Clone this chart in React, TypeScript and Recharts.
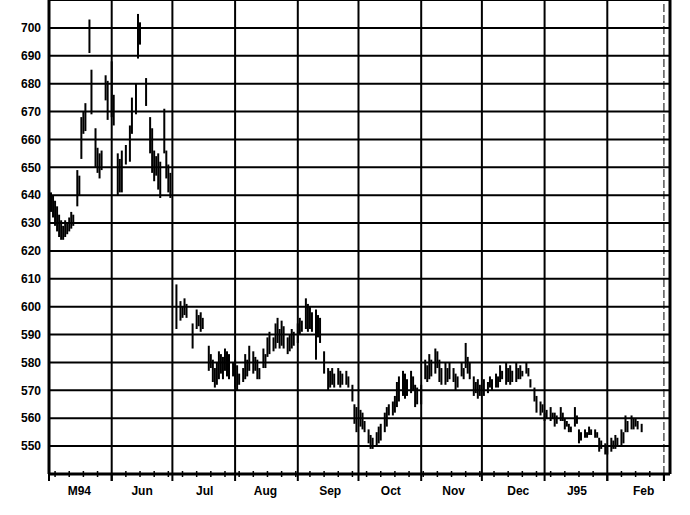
import {
  ComposedChart,
  Bar,
  XAxis,
  YAxis,
  CartesianGrid,
  ReferenceLine,
} from 'recharts';

// daily bars: [day counted from 1 May 1994, high, low]
const may94 = [
  [1, 641, 634], [2, 640, 632], [3, 638, 629], [4, 636, 627], [5, 633, 625],
  [6, 631, 624], [7, 629, 624], [8, 631, 625], [9, 630, 626], [10, 632, 627],
  [11, 634, 628], [12, 633, 629], [14, 649, 636], [15, 647, 640], [16, 668, 653],
  [17, 670, 662], [18, 673, 663], [20, 703, 691], [21, 685, 669], [23, 664, 650],
  [24, 657, 648], [25, 655, 646], [26, 656, 649], [28, 683, 674], [29, 681, 667],
];
const jun94 = [
  [31, 688, 668], [32, 676, 665], [34, 655, 640], [35, 653, 641], [36, 656, 641],
  [38, 658, 651], [40, 665, 652], [41, 675, 662], [43, 680, 669], [44, 705, 689],
  [45, 702, 694], [48, 682, 672], [50, 668, 655], [51, 664, 648], [52, 656, 645],
  [53, 654, 647], [54, 655, 642], [55, 652, 639], [57, 671, 655], [58, 656, 646],
  [59, 651, 641], [60, 648, 639],
];
const jul94 = [
  [63, 608, 592], [65, 602, 595], [66, 600, 596], [67, 603, 597], [68, 601, 596],
  [71, 594, 585], [73, 599, 592], [74, 597, 593], [75, 598, 591], [76, 596, 592],
  [79, 586, 577], [80, 583, 578], [81, 581, 573], [82, 578, 571], [83, 580, 572],
  [84, 584, 574], [85, 583, 576], [86, 582, 574], [87, 585, 577], [88, 584, 575],
  [89, 583, 574], [91, 580, 575],
];
const aug94 = [
  [92, 581, 571], [93, 579, 570], [94, 576, 572], [96, 578, 573], [97, 583, 574],
  [98, 581, 575], [99, 586, 577], [101, 584, 576], [102, 582, 577], [103, 581, 574],
  [104, 578, 574], [106, 585, 578], [107, 583, 578], [108, 589, 582], [109, 591, 583],
  [111, 589, 584], [112, 594, 585], [113, 596, 587], [114, 592, 585], [115, 595, 586],
  [116, 593, 585], [118, 589, 583], [119, 590, 584], [120, 592, 585], [121, 591, 586],
];
const sep94 = [
  [123, 594, 587], [124, 596, 590], [125, 595, 591], [127, 603, 592], [128, 601, 591],
  [129, 600, 592], [130, 598, 591], [132, 599, 581], [133, 597, 589], [134, 596, 587],
  [136, 584, 576], [138, 578, 570], [139, 577, 571], [140, 578, 572], [141, 576, 571],
  [143, 578, 572], [144, 577, 571], [145, 576, 572], [147, 577, 572], [148, 575, 571],
  [150, 572, 566], [151, 565, 558], [152, 564, 555],
];
const oct94 = [
  [154, 563, 557], [155, 562, 556], [156, 559, 555], [158, 556, 551], [159, 554, 549],
  [160, 553, 549], [162, 555, 550], [163, 557, 551], [164, 558, 552], [166, 562, 555],
  [167, 564, 557], [168, 565, 561], [170, 566, 561], [171, 568, 562], [172, 573, 564],
  [173, 575, 566], [175, 577, 568], [176, 576, 567], [177, 574, 568], [179, 577, 569],
  [180, 575, 570], [181, 572, 564], [182, 571, 565],
];
const nov94 = [
  [184, 572, 565], [186, 581, 574], [187, 579, 573], [188, 583, 574], [189, 581, 575],
  [191, 585, 576], [192, 584, 578], [193, 581, 573], [194, 578, 572], [196, 580, 572],
  [197, 578, 573], [198, 580, 574], [200, 578, 573], [201, 576, 570], [202, 575, 571],
  [204, 580, 575], [205, 578, 574], [206, 587, 578], [207, 582, 576], [208, 580, 574],
  [210, 575, 568], [211, 573, 569], [212, 574, 567], [213, 572, 568],
];
const dec94 = [
  [215, 574, 568], [217, 573, 569], [218, 575, 571], [219, 574, 570], [221, 576, 571],
  [222, 575, 571], [223, 579, 573], [224, 577, 574], [226, 580, 572], [227, 578, 573],
  [228, 579, 572], [229, 577, 573], [231, 580, 573], [232, 578, 574], [233, 579, 574],
  [234, 577, 575], [236, 580, 576], [237, 578, 575], [238, 574, 571], [240, 571, 566],
  [241, 568, 562], [243, 566, 561], [244, 565, 562],
];
const jan95 = [
  [245, 562, 559], [246, 563, 560], [248, 564, 559], [249, 562, 560], [250, 562, 557],
  [251, 561, 558], [253, 564, 559], [254, 562, 559], [255, 560, 556], [256, 559, 557],
  [257, 558, 555], [258, 557, 555], [260, 564, 557], [261, 561, 558], [262, 556, 551],
  [263, 555, 552], [265, 556, 553], [266, 555, 553], [267, 557, 554], [268, 556, 554],
  [270, 556, 553], [271, 555, 553], [272, 553, 548], [273, 552, 549], [275, 551, 547],
];
const feb95 = [
  [276, 550, 547], [278, 553, 548], [279, 552, 549], [280, 554, 549], [281, 553, 550],
  [283, 556, 550], [284, 555, 551], [285, 561, 555], [286, 559, 555], [288, 561, 556],
  [289, 560, 556], [290, 560, 557], [291, 559, 556], [293, 558, 555],
];

const monthStarts = [0, 31, 61, 92, 123, 153, 184, 214, 245, 276];
const monthMids = [15, 46, 77, 107, 139, 169, 200, 232, 261, 294];
const monthLabels = ['M94', 'Jun', 'Jul', 'Aug', 'Sep', 'Oct', 'Nov', 'Dec', 'J95', 'Feb'];
const priceTicks = [550, 560, 570, 580, 590, 600, 610, 620, 630, 640, 650, 660, 670, 680, 690, 700];
const marchStart = 304;
const lastDay = 307;

const weekTicks = Array.from({ length: 44 }, (_, i) => 3 + i * 7);
const axisTicks = [...monthStarts, marchStart, ...weekTicks].sort((a, b) => a - b);

const table = [
  ...may94, ...jun94, ...jul94, ...aug94, ...sep94,
  ...oct94, ...nov94, ...dec94, ...jan95, ...feb95,
].map(([day, high, low]) => ({ day, range: [low, high] }));

const font = "'Liberation Sans', Arial, sans-serif";

// tick marks on the date axis: long ones at month starts, short crossing marks for weeks
const AxisMark = (props: any) => {
  const { x, y, payload } = props;
  const isMonth = monthStarts.includes(payload.value) || payload.value === marchStart;
  return isMonth ? (
    <line x1={x} x2={x} y1={y} y2={y + 7} stroke='#000' strokeWidth={2} />
  ) : (
    <line x1={x} x2={x} y1={y - 3} y2={y + 3} stroke='#000' strokeWidth={1.5} />
  );
};

export default function App() {
  return (
    <div style={{ position: 'absolute', left: 0, top: 0, background: '#fff' }}>
      <ComposedChart
        width={690}
        height={515}
        data={table}
        margin={{ top: 0, right: 20, bottom: 0, left: 0 }}
      >
        <CartesianGrid vertical={false} stroke='#000' strokeWidth={2} />
        <XAxis
          xAxisId='grid'
          dataKey='day'
          type='number'
          domain={[0, lastDay]}
          ticks={axisTicks}
          interval={0}
          height={7}
          tickSize={0}
          tickMargin={0}
          tickLine={false}
          tick={<AxisMark />}
          axisLine={{ stroke: '#000', strokeWidth: 3 }}
          allowDataOverflow
        />
        <XAxis
          xAxisId='lab'
          dataKey='day'
          type='number'
          domain={[0, lastDay]}
          ticks={monthMids}
          interval={0}
          height={34}
          tickSize={0}
          tickMargin={5}
          tickLine={false}
          axisLine={false}
          tickFormatter={(v: number) => monthLabels[monthMids.indexOf(v)]}
          tick={{ fill: '#000', fontSize: 12, fontWeight: 700, fontFamily: font }}
          allowDataOverflow
        />
        <YAxis
          type='number'
          domain={[540, 710]}
          ticks={priceTicks}
          interval={0}
          width={49}
          tickSize={0}
          tickMargin={8}
          tickLine={false}
          axisLine={{ stroke: '#000', strokeWidth: 3 }}
          tick={{ fill: '#000', fontSize: 12, fontWeight: 700, fontFamily: font }}
          allowDataOverflow
        />
        {monthStarts.slice(1).map((d) => (
          <ReferenceLine key={d} xAxisId='grid' x={d} stroke='#000' strokeWidth={2} />
        ))}
        <ReferenceLine xAxisId='grid' x={marchStart} stroke='#000' strokeWidth={1} strokeDasharray='8 3' />
        <ReferenceLine xAxisId='grid' x={lastDay} stroke='#000' strokeWidth={3} />
        <Bar
          xAxisId='grid'
          dataKey='range'
          fill='#000'
          barSize={2}
          isAnimationActive={false}
        />
      </ComposedChart>
    </div>
  );
}
